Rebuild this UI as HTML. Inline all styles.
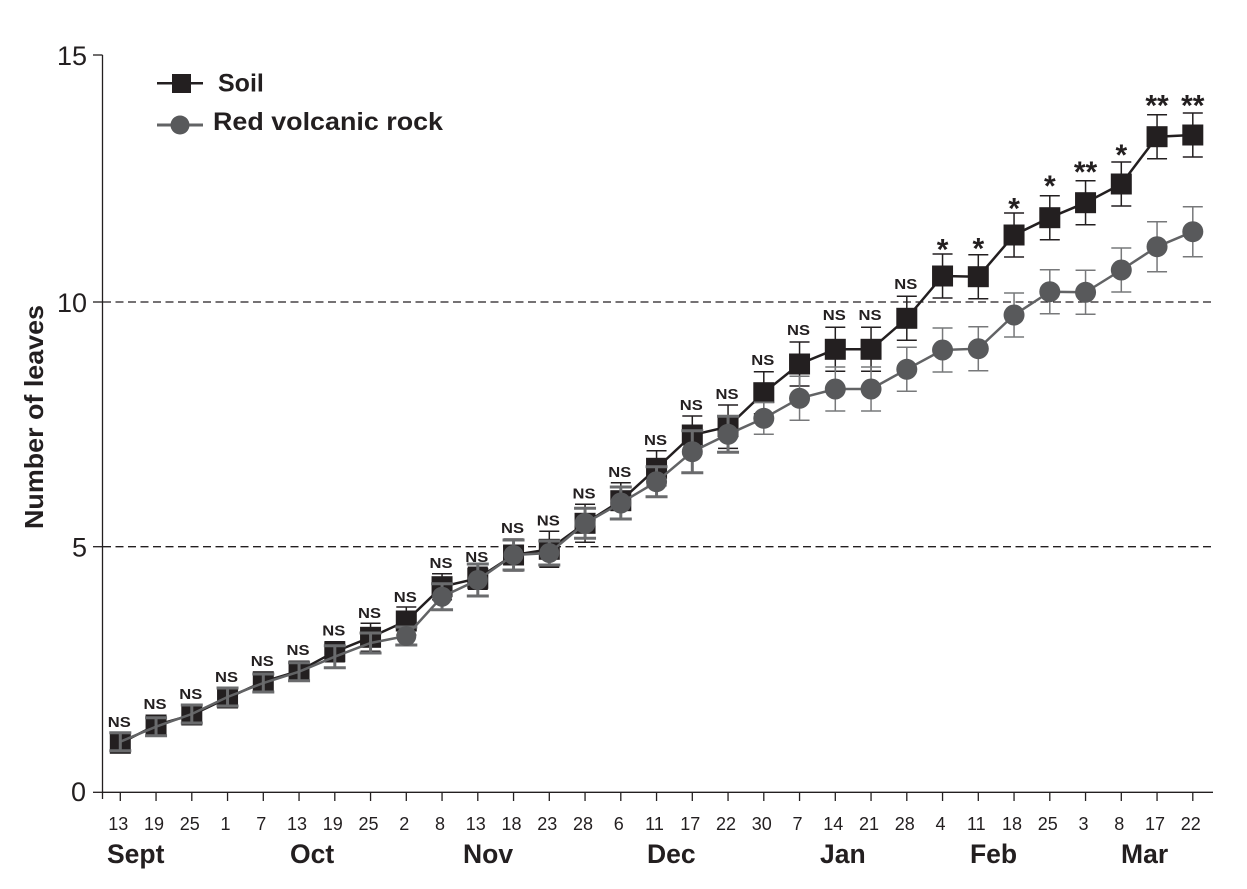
<!DOCTYPE html>
<html><head><meta charset="utf-8"><style>
html,body{margin:0;padding:0;background:#fff;}
svg{display:block;}
text{font-family:"Liberation Sans",sans-serif;fill:#231f20;}
</style></head><body>
<svg width="1247" height="889" viewBox="0 0 1247 889" xmlns="http://www.w3.org/2000/svg">
<rect width="1247" height="889" fill="#fff"/>
<!-- dashed gridlines -->
<g stroke="#231f20" stroke-width="1.3" stroke-dasharray="8 4.5" fill="none">
<line x1="103" y1="302" x2="1212" y2="302"/>
<line x1="103" y1="546.7" x2="1212" y2="546.7"/>
</g>
<!-- axes -->
<g stroke="#231f20" stroke-width="1.3" fill="none">
<line x1="102.5" y1="55" x2="102.5" y2="799"/>
<line x1="102" y1="792.3" x2="1213" y2="792.3"/>
<line x1="93" y1="55" x2="102.5" y2="55"/>
<line x1="93" y1="302" x2="102.5" y2="302"/>
<line x1="93" y1="546.7" x2="102.5" y2="546.7"/>
<line x1="93" y1="792.3" x2="102.5" y2="792.3"/>
<path d="M120.3 792V801M156.05 792V801M191.8 792V801M227.55 792V801M263.3 792V801M299.05 792V801M334.8 792V801M370.55 792V801M406.3 792V801M442.05 792V801M477.8 792V801M513.55 792V801M549.3 792V801M585.05 792V801M620.8 792V801M656.55 792V801M692.3 792V801M728.05 792V801M763.8 792V801M799.55 792V801M835.3 792V801M871.05 792V801M906.8 792V801M942.55 792V801M978.3 792V801M1014.05 792V801M1049.8 792V801M1085.55 792V801M1121.3 792V801M1157.05 792V801M1192.8 792V801"/>
</g>
<!-- y tick labels -->
<g font-size="27" text-anchor="end">
<text x="87" y="65">15</text>
<text x="87" y="312">10</text>
<text x="87" y="556.5">5</text>
<text x="86" y="801">0</text>
</g>
<text transform="translate(43,417) rotate(-90)" font-size="26" font-weight="bold" text-anchor="middle" textLength="224" lengthAdjust="spacingAndGlyphs">Number of leaves</text>
<!-- x tick labels -->
<g font-size="18" text-anchor="middle">
<text x="118.3" y="830">13</text><text x="154" y="830">19</text><text x="189.8" y="830">25</text><text x="225.5" y="830">1</text><text x="261.3" y="830">7</text><text x="297" y="830">13</text><text x="332.8" y="830">19</text><text x="368.5" y="830">25</text><text x="404.3" y="830">2</text><text x="440" y="830">8</text><text x="475.8" y="830">13</text><text x="511.5" y="830">18</text><text x="547.3" y="830">23</text><text x="583" y="830">28</text><text x="618.8" y="830">6</text><text x="654.5" y="830">11</text><text x="690.3" y="830">17</text><text x="726" y="830">22</text><text x="761.8" y="830">30</text><text x="797.5" y="830">7</text><text x="833.3" y="830">14</text><text x="869" y="830">21</text><text x="904.8" y="830">28</text><text x="940.5" y="830">4</text><text x="976.3" y="830">11</text><text x="1012" y="830">18</text><text x="1047.8" y="830">25</text><text x="1083.5" y="830">3</text><text x="1119.3" y="830">8</text><text x="1155" y="830">17</text><text x="1190.8" y="830">22</text>
</g>
<!-- month labels -->
<g font-size="26.5" font-weight="bold">
<text x="107" y="863">Sept</text>
<text x="290" y="863">Oct</text>
<text x="463" y="863">Nov</text>
<text x="647" y="863">Dec</text>
<text x="820" y="863">Jan</text>
<text x="970" y="863">Feb</text>
<text x="1121" y="863">Mar</text>
</g>
<!-- Soil series -->
<polyline fill="none" stroke="#231f20" stroke-width="2.5" points="120.3,743.3 156.05,725 191.8,715 227.55,698 263.3,681.7 299.05,671 334.8,651.7 370.55,637.3 406.3,621 442.05,586.7 477.8,578.3 513.55,555 549.3,549.3 585.05,523.3 620.8,500.7 656.55,468.3 692.3,435 728.05,426.7 763.8,392.7 799.55,364 835.3,349.3 871.05,349.3 906.8,318.3 942.55,276 978.3,276.7 1014.05,235 1049.8,217.7 1085.55,202.7 1121.3,184 1157.05,136.7 1192.8,135"/>
<path fill="none" stroke="#231f20" stroke-width="1.5" d="
M334.8 641.7V661.7M324.8 641.7H344.8M324.8 661.7H344.8
M370.55 623.3V651.3M360.55 623.3H380.55M360.55 651.3H380.55
M406.3 607V635M396.3 607H416.3M396.3 635H416.3
M442.05 573.7V599.7M432.05 573.7H452.05M432.05 599.7H452.05
M477.8 567.3V589.3M467.8 567.3H487.8M467.8 589.3H487.8
M513.55 539V571M503.55 539H523.55M503.55 571H523.55
M549.3 531.3V567.3M539.3 531.3H559.3M539.3 567.3H559.3
M585.05 504.3V542.3M575.05 504.3H595.05M575.05 542.3H595.05
M620.8 482.7V518.7M610.8 482.7H630.8M610.8 518.7H630.8
M656.55 450.8V485.8M646.55 450.8H666.55M646.55 485.8H666.55
M692.3 416V454M682.3 416H702.3M682.3 454H702.3
M728.05 405V448.4M718.05 405H738.05M718.05 448.4H738.05
M763.8 371.7V413.7M753.8 371.7H773.8M753.8 413.7H773.8
M799.55 342V386M789.55 342H809.55M789.55 386H809.55
M835.3 327.3V371.3M825.3 327.3H845.3M825.3 371.3H845.3
M871.05 327.3V371.3M861.05 327.3H881.05M861.05 371.3H881.05
M906.8 296.3V340.3M896.8 296.3H916.8M896.8 340.3H916.8
M942.55 254V298M932.55 254H952.55M932.55 298H952.55
M978.3 254.7V298.7M968.3 254.7H988.3M968.3 298.7H988.3
M1014.05 213V257M1004.05 213H1024.05M1004.05 257H1024.05
M1049.8 195.7V239.7M1039.8 195.7H1059.8M1039.8 239.7H1059.8
M1085.55 180.7V224.7M1075.55 180.7H1095.55M1075.55 224.7H1095.55
M1121.3 162V206M1111.3 162H1131.3M1111.3 206H1131.3
M1157.05 114.7V158.7M1147.05 114.7H1167.05M1147.05 158.7H1167.05
M1192.8 113V157M1182.8 113H1202.8M1182.8 157H1202.8"/>
<g fill="#231f20">
<rect x="109.8" y="732.8" width="21" height="21"/>
<rect x="145.55" y="714.5" width="21" height="21"/>
<rect x="181.3" y="704.5" width="21" height="21"/>
<rect x="217.05" y="687.5" width="21" height="21"/>
<rect x="252.8" y="671.2" width="21" height="21"/>
<rect x="288.55" y="660.5" width="21" height="21"/>
<rect x="324.3" y="641.2" width="21" height="21"/>
<rect x="360.05" y="626.8" width="21" height="21"/>
<rect x="395.8" y="610.5" width="21" height="21"/>
<rect x="431.55" y="576.2" width="21" height="21"/>
<rect x="467.3" y="567.8" width="21" height="21"/>
<rect x="503.05" y="544.5" width="21" height="21"/>
<rect x="538.8" y="538.8" width="21" height="21"/>
<rect x="574.55" y="512.8" width="21" height="21"/>
<rect x="610.3" y="490.2" width="21" height="21"/>
<rect x="646.05" y="457.8" width="21" height="21"/>
<rect x="681.8" y="424.5" width="21" height="21"/>
<rect x="717.55" y="416.2" width="21" height="21"/>
<rect x="753.3" y="382.2" width="21" height="21"/>
<rect x="789.05" y="353.5" width="21" height="21"/>
<rect x="824.8" y="338.8" width="21" height="21"/>
<rect x="860.55" y="338.8" width="21" height="21"/>
<rect x="896.3" y="307.8" width="21" height="21"/>
<rect x="932.05" y="265.5" width="21" height="21"/>
<rect x="967.8" y="266.2" width="21" height="21"/>
<rect x="1003.55" y="224.5" width="21" height="21"/>
<rect x="1039.3" y="207.2" width="21" height="21"/>
<rect x="1075.05" y="192.2" width="21" height="21"/>
<rect x="1110.8" y="173.5" width="21" height="21"/>
<rect x="1146.55" y="126.2" width="21" height="21"/>
<rect x="1182.3" y="124.5" width="21" height="21"/>
</g>
<!-- Rock series -->
<polyline fill="none" stroke="#626365" stroke-width="2.5" points="120.3,741.7 156.05,726.7 191.8,714 227.55,697 263.3,683 299.05,671.7 334.8,656.7 370.55,643 406.3,636 442.05,596.7 477.8,580 513.55,555 549.3,553 585.05,523.3 620.8,503 656.55,481.7 692.3,451.7 728.05,434.3 763.8,418.3 799.55,398.3 835.3,389 871.05,389 906.8,369.3 942.55,350 978.3,348.7 1014.05,315 1049.8,291.7 1085.55,292.3 1121.3,270 1157.05,246.7 1192.8,231.7"/>
<path fill="none" stroke="#6a6b6d" stroke-width="3" d="
M120.3 732.7V750.7M109.3 732.7H131.3M109.3 750.7H131.3
M156.05 717.7V735.7M145.05 717.7H167.05M145.05 735.7H167.05
M191.8 705V723M180.8 705H202.8M180.8 723H202.8
M227.55 688V706M216.55 688H238.55M216.55 706H238.55
M263.3 674V692M252.3 674H274.3M252.3 692H274.3
M299.05 662.7V680.7M288.05 662.7H310.05M288.05 680.7H310.05
M334.8 645.7V667.7M323.8 645.7H345.8M323.8 667.7H345.8
M370.55 633V653M359.55 633H381.55M359.55 653H381.55
M406.3 627V645M395.3 627H417.3M395.3 645H417.3
M442.05 583.7V609.7M431.05 583.7H453.05M431.05 609.7H453.05
M477.8 564V596M466.8 564H488.8M466.8 596H488.8
M513.55 540V570M502.55 540H524.55M502.55 570H524.55
M549.3 541V565M538.3 541H560.3M538.3 565H560.3
M585.05 508.3V538.3M574.05 508.3H596.05M574.05 538.3H596.05
M620.8 487V519M609.8 487H631.8M609.8 519H631.8
M656.55 466.7V496.7M645.55 466.7H667.55M645.55 496.7H667.55
M692.3 430.7V472.7M681.3 430.7H703.3M681.3 472.7H703.3
M728.05 416.3V452.3M717.05 416.3H739.05M717.05 452.3H739.05"/>
<path fill="none" stroke="#77787a" stroke-width="1.5" d="
M763.8 402.3V434.3M753.8 402.3H773.8M753.8 434.3H773.8
M799.55 376.3V420.3M789.55 376.3H809.55M789.55 420.3H809.55
M835.3 367V411M825.3 367H845.3M825.3 411H845.3
M871.05 367V411M861.05 367H881.05M861.05 411H881.05
M906.8 347.3V391.3M896.8 347.3H916.8M896.8 391.3H916.8
M942.55 328V372M932.55 328H952.55M932.55 372H952.55
M978.3 326.7V370.7M968.3 326.7H988.3M968.3 370.7H988.3
M1014.05 293V337M1004.05 293H1024.05M1004.05 337H1024.05
M1049.8 269.7V313.7M1039.8 269.7H1059.8M1039.8 313.7H1059.8
M1085.55 270.3V314.3M1075.55 270.3H1095.55M1075.55 314.3H1095.55
M1121.3 248V292M1111.3 248H1131.3M1111.3 292H1131.3
M1157.05 221.7V271.7M1147.05 221.7H1167.05M1147.05 271.7H1167.05
M1192.8 206.7V256.7M1182.8 206.7H1202.8M1182.8 256.7H1202.8"/>
<g fill="#58595b">
<circle cx="406.3" cy="636" r="10"/>
<circle cx="442.05" cy="596.7" r="10"/>
<circle cx="477.8" cy="580" r="10"/>
<circle cx="513.55" cy="555" r="10"/>
<circle cx="549.3" cy="553" r="10"/>
<circle cx="585.05" cy="523.3" r="10.5"/>
<circle cx="620.8" cy="503" r="10.5"/>
<circle cx="656.55" cy="481.7" r="10.5"/>
<circle cx="692.3" cy="451.7" r="10.5"/>
<circle cx="728.05" cy="434.3" r="10.5"/>
<circle cx="763.8" cy="418.3" r="10.5"/>
<circle cx="799.55" cy="398.3" r="10.5"/>
<circle cx="835.3" cy="389" r="10.5"/>
<circle cx="871.05" cy="389" r="10.5"/>
<circle cx="906.8" cy="369.3" r="10.5"/>
<circle cx="942.55" cy="350" r="10.5"/>
<circle cx="978.3" cy="348.7" r="10.5"/>
<circle cx="1014.05" cy="315" r="10.5"/>
<circle cx="1049.8" cy="291.7" r="10.5"/>
<circle cx="1085.55" cy="292.3" r="10.5"/>
<circle cx="1121.3" cy="270" r="10.5"/>
<circle cx="1157.05" cy="246.7" r="10.5"/>
<circle cx="1192.8" cy="231.7" r="10.5"/>
</g>
<!-- NS labels -->
<g font-size="14.5" font-weight="bold" text-anchor="middle" fill="#231f20">
<text x="119.3" y="727" textLength="23" lengthAdjust="spacingAndGlyphs">NS</text>
<text x="155" y="709" textLength="23" lengthAdjust="spacingAndGlyphs">NS</text>
<text x="190.8" y="699" textLength="23" lengthAdjust="spacingAndGlyphs">NS</text>
<text x="226.5" y="682" textLength="23" lengthAdjust="spacingAndGlyphs">NS</text>
<text x="262.3" y="666" textLength="23" lengthAdjust="spacingAndGlyphs">NS</text>
<text x="298" y="655" textLength="23" lengthAdjust="spacingAndGlyphs">NS</text>
<text x="333.8" y="635.5" textLength="23" lengthAdjust="spacingAndGlyphs">NS</text>
<text x="369.5" y="618" textLength="23" lengthAdjust="spacingAndGlyphs">NS</text>
<text x="405.3" y="602" textLength="23" lengthAdjust="spacingAndGlyphs">NS</text>
<text x="441" y="568" textLength="23" lengthAdjust="spacingAndGlyphs">NS</text>
<text x="476.8" y="562" textLength="23" lengthAdjust="spacingAndGlyphs">NS</text>
<text x="512.5" y="533" textLength="23" lengthAdjust="spacingAndGlyphs">NS</text>
<text x="548.3" y="525.5" textLength="23" lengthAdjust="spacingAndGlyphs">NS</text>
<text x="584" y="498.5" textLength="23" lengthAdjust="spacingAndGlyphs">NS</text>
<text x="619.8" y="477" textLength="23" lengthAdjust="spacingAndGlyphs">NS</text>
<text x="655.5" y="445" textLength="23" lengthAdjust="spacingAndGlyphs">NS</text>
<text x="691.3" y="410" textLength="23" lengthAdjust="spacingAndGlyphs">NS</text>
<text x="727" y="399" textLength="23" lengthAdjust="spacingAndGlyphs">NS</text>
<text x="762.8" y="365" textLength="23" lengthAdjust="spacingAndGlyphs">NS</text>
<text x="798.5" y="335" textLength="23" lengthAdjust="spacingAndGlyphs">NS</text>
<text x="834.3" y="320" textLength="23" lengthAdjust="spacingAndGlyphs">NS</text>
<text x="870" y="320" textLength="23" lengthAdjust="spacingAndGlyphs">NS</text>
<text x="905.8" y="289" textLength="23" lengthAdjust="spacingAndGlyphs">NS</text>
</g>
<!-- significance stars -->
<g font-size="30" font-weight="bold" text-anchor="middle" fill="#231f20">
<text x="942.55" y="259.7">*</text>
<text x="978.3" y="258.7">*</text>
<text x="1014.05" y="218.7">*</text>
<text x="1049.8" y="196">*</text>
<text x="1085.55" y="182">**</text>
<text x="1121.3" y="165">*</text>
<text x="1157.05" y="115.3">**</text>
<text x="1192.8" y="115.3">**</text>
</g>
<!-- legend -->
<line x1="157" y1="83.3" x2="203" y2="83.3" stroke="#231f20" stroke-width="2.5"/>
<rect x="172" y="74" width="19" height="19" fill="#231f20"/>
<text x="218" y="91.7" font-size="25" font-weight="bold">Soil</text>
<line x1="157" y1="125" x2="203" y2="125" stroke="#626365" stroke-width="3"/>
<circle cx="180" cy="125" r="9.5" fill="#58595b"/>
<text x="213" y="130" font-size="25" font-weight="bold" textLength="230" lengthAdjust="spacingAndGlyphs">Red volcanic rock</text>
</svg>
</body></html>
